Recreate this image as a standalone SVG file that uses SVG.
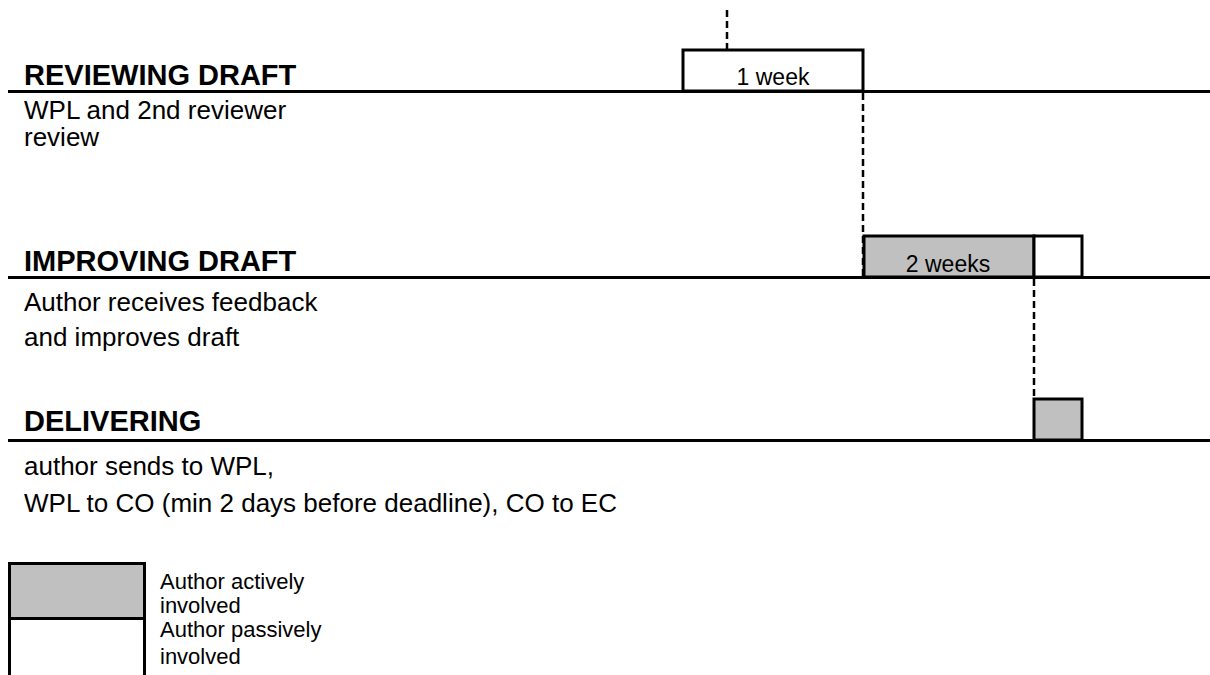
<svg xmlns="http://www.w3.org/2000/svg" width="1210" height="675" viewBox="0 0 1210 675">
<style>
.h{font-family:"Liberation Sans",Arial,sans-serif;font-weight:bold;font-size:29px;fill:#000}
.b{font-family:"Liberation Sans",Arial,sans-serif;font-size:26px;fill:#000}
.s{font-family:"Liberation Sans",Arial,sans-serif;font-size:23px;fill:#000}
.l{font-family:"Liberation Sans",Arial,sans-serif;font-size:22px;fill:#000}
.rule{stroke:#000;stroke-width:3;fill:none}
.dash{stroke:#000;stroke-width:2.5;stroke-dasharray:7 4;fill:none}
.act{fill:#c0c0c0;stroke:#000;stroke-width:3}
.pas{fill:#fff;stroke:#000;stroke-width:3}
</style>
<rect width="1210" height="675" fill="#fff"/>
<g id="connectors">
<line class="dash" x1="727" y1="10" x2="727" y2="49"/>
<line class="dash" x1="863" y1="93" x2="863" y2="276"/>
<line class="dash" x1="1034" y1="279" x2="1034" y2="398"/>
</g>
<g id="reviewing">
<text class="h" x="24" y="85">REVIEWING DRAFT</text>
<rect class="pas" x="683" y="50" width="180" height="41"/>
<text class="s" x="773" y="85" text-anchor="middle">1 week</text>
<line class="rule" x1="8" y1="91.5" x2="1210" y2="91.5"/>
<text class="b" x="24" y="119">WPL and 2nd reviewer</text>
<text class="b" x="24" y="146">review</text>
</g>
<g id="improving">
<text class="h" x="24" y="271">IMPROVING DRAFT</text>
<rect class="act" x="864" y="236" width="170" height="41"/>
<rect class="pas" x="1034" y="236" width="48" height="41"/>
<text class="s" x="948" y="272" text-anchor="middle">2 weeks</text>
<line class="rule" x1="8" y1="277.5" x2="1210" y2="277.5"/>
<text class="b" x="24" y="311">Author receives feedback</text>
<text class="b" x="24" y="346">and improves draft</text>
</g>
<g id="delivering">
<text class="h" x="24" y="431">DELIVERING</text>
<rect class="act" x="1034" y="399" width="48" height="41"/>
<line class="rule" x1="8" y1="440.5" x2="1210" y2="440.5"/>
<text class="b" x="24" y="475">author sends to WPL,</text>
<text class="b" x="24" y="512">WPL to CO (min 2 days before deadline), CO to EC</text>
</g>
<g id="legend">
<rect class="act" x="9.5" y="563.5" width="135" height="55"/>
<rect class="pas" x="9.5" y="618.5" width="135" height="60"/>
<text class="l" x="160" y="589">Author actively</text>
<text class="l" x="160" y="613">involved</text>
<text class="l" x="160" y="637">Author passively</text>
<text class="l" x="160" y="664">involved</text>
</g>
</svg>
